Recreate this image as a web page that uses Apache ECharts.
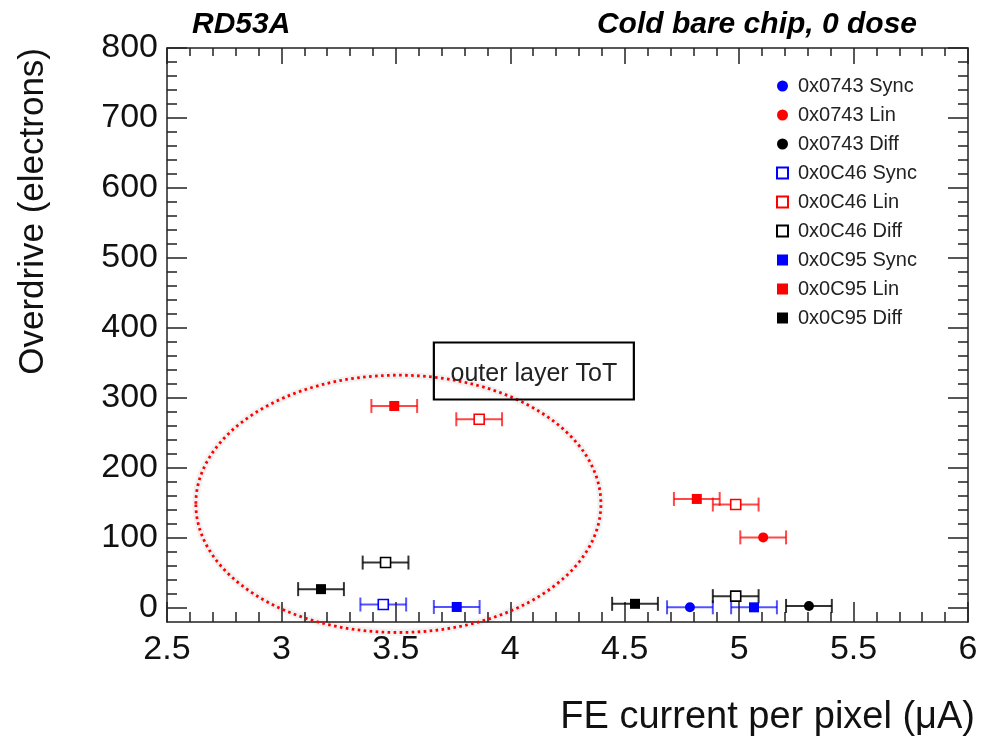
<!DOCTYPE html>
<html>
<head>
<meta charset="utf-8">
<script src="https://cdn.jsdelivr.net/npm/echarts@6/dist/echarts.min.js"></script>
<style>
  html, body { margin: 0; padding: 0; background: #fff; }
  #chart { width: 982px; height: 738px; }
</style>
</head>
<body>
<div id="chart"></div>
<script>
// ---------------- data ----------------
const seriesNames = [
  '0x0743 Sync', '0x0743 Lin', '0x0743 Diff',
  '0x0C46 Sync', '0x0C46 Lin', '0x0C46 Diff',
  '0x0C95 Sync', '0x0C95 Lin', '0x0C95 Diff'
];
// [FE current (uA), overdrive (e-)]
const sync0743 = [[4.785, 0]];
const lin0743  = [[5.105, 100]];
const diff0743 = [[5.305, 2]];
const sync0C46 = [[3.445, 4]];
const lin0C46  = [[3.864, 269], [4.985, 147]];
const diff0C46 = [[3.455, 64], [4.985, 16]];
const sync0C95 = [[3.766, 0.5], [5.065, 0]];
const lin0C95  = [[3.493, 288], [4.815, 155]];
const diff0C95 = [[3.173, 26], [4.545, 5]];
// horizontal error (uA), one per point
const xErr0743 = [0.1];
const xErrPair = [0.1, 0.1];

const xTicks = [2.5, 3, 3.5, 4, 4.5, 5, 5.5, 6];
const yTicks = [0, 100, 200, 300, 400, 500, 600, 700, 800];

const titleLeft = 'RD53A';
const titleRight = 'Cold bare chip, 0 dose';
const xName = 'FE current per pixel (\u03bcA)';
const yName = 'Overdrive (electrons)';
const boxText = 'outer layer ToT';

// annotation placement in data units
const ellipseData = { cx: 3.511, cy: 148, rx: 0.885, ry: 184 };
const boxCenter = [4.103, 338];

// ---------------- build ----------------
const FONT = "'Liberation Sans', Arial, Helvetica, sans-serif";
const RED = '#ff0000', BLUE = '#0000ff', BLACK = '#000000';

function minorTicks(major, step) {
  const out = [];
  for (let i = 0; i < major.length - 1; i++) {
    for (let k = 1; k < 5; k++) out.push(Math.round((major[i] + k * step) * 1000) / 1000);
  }
  return out;
}
const xMinor = minorTicks(xTicks, 0.1);
const yMinor = minorTicks(yTicks, 20);

const XMIN = 2.5, XMAX = 6, YMIN = -21, YMAX = 800;
const axisCol = '#222';

function xAxisDef(position, ticks, len, showLabel, showLine) {
  return {
    type: 'value', position: position, min: XMIN, max: XMAX,
    axisLine: { show: showLine, onZero: false, lineStyle: { color: axisCol, width: 1.5 } },
    axisTick: { show: true, inside: true, length: len, customValues: ticks, lineStyle: { color: axisCol, width: 1.5 } },
    axisLabel: showLabel ? { show: true, customValues: xTicks, margin: 11, color: '#111', fontSize: 34, fontFamily: FONT,
      formatter: v => String(v) } : { show: false },
    splitLine: { show: false }
  };
}
function yAxisDef(position, ticks, len, showLabel, showLine) {
  return {
    type: 'value', position: position, min: YMIN, max: YMAX,
    axisLine: { show: showLine, onZero: false, lineStyle: { color: axisCol, width: 1.5 } },
    axisTick: { show: true, inside: true, length: len, customValues: ticks, lineStyle: { color: axisCol, width: 1.5 } },
    axisLabel: showLabel ? { show: true, customValues: yTicks, margin: 9, color: '#111', fontSize: 34, fontFamily: FONT,
      formatter: v => String(v) } : { show: false },
    splitLine: { show: false }
  };
}

const groups = [
  { name: '0x0743 Sync', data: sync0743, err: xErr0743, color: BLUE,  symbol: 'circle', open: false },
  { name: '0x0743 Lin',  data: lin0743,  err: xErr0743, color: RED,   symbol: 'circle', open: false },
  { name: '0x0743 Diff', data: diff0743, err: xErr0743, color: BLACK, symbol: 'circle', open: false },
  { name: '0x0C46 Sync', data: sync0C46, err: xErr0743, color: BLUE,  symbol: 'rect',   open: true },
  { name: '0x0C46 Lin',  data: lin0C46,  err: xErrPair, color: RED,   symbol: 'rect',   open: true },
  { name: '0x0C46 Diff', data: diff0C46, err: xErrPair, color: BLACK, symbol: 'rect',   open: true },
  { name: '0x0C95 Sync', data: sync0C95, err: xErrPair, color: BLUE,  symbol: 'rect',   open: false },
  { name: '0x0C95 Lin',  data: lin0C95,  err: xErrPair, color: RED,   symbol: 'rect',   open: false },
  { name: '0x0C95 Diff', data: diff0C95, err: xErrPair, color: BLACK, symbol: 'rect',   open: false }
];

function errColor(c) {
  if (c === RED) return 'rgba(255,0,0,0.72)';
  if (c === BLUE) return 'rgba(0,0,255,0.68)';
  return 'rgba(0,0,0,0.8)';
}

const series = [];
groups.forEach(g => {
  series.push({
    type: 'custom', name: g.name + ' err', xAxisIndex: 0, yAxisIndex: 0, z: 2, silent: true,
    data: g.data.map((p, i) => [p[0], p[1], g.err[i]]),
    encode: { x: 0, y: 1 },
    renderItem: function (params, api) {
      const x = api.value(0), y = api.value(1), e = api.value(2);
      const a = api.coord([x - e, y]), b = api.coord([x + e, y]);
      const h = 7;
      const st = { stroke: errColor(g.color), lineWidth: 2, fill: null };
      return {
        type: 'group',
        children: [
          { type: 'line', shape: { x1: a[0], y1: a[1], x2: b[0], y2: b[1] }, style: st },
          { type: 'line', shape: { x1: a[0], y1: a[1] - h, x2: a[0], y2: a[1] + h }, style: st },
          { type: 'line', shape: { x1: b[0], y1: b[1] - h, x2: b[0], y2: b[1] + h }, style: st }
        ]
      };
    }
  });
});
groups.forEach(g => {
  series.push({
    type: 'scatter', name: g.name, xAxisIndex: 0, yAxisIndex: 0, z: 5,
    symbol: g.symbol, symbolSize: 10,
    data: g.data,
    itemStyle: g.open
      ? { color: '#ffffff', borderColor: g.color, borderWidth: 1.6, opacity: 1 }
      : { color: g.color, borderWidth: 0, opacity: 1 },
    emphasis: { disabled: true }
  });
});

const chart = echarts.init(document.getElementById('chart'), null, { renderer: 'canvas' });
const option = {
  backgroundColor: '#ffffff',
  animation: false,
  grid: { left: 167, right: 14, top: 48, bottom: 116, containLabel: false },
  xAxis: [
    xAxisDef('bottom', xTicks, 20, true, true),
    xAxisDef('bottom', xMinor, 10, false, false),
    xAxisDef('top', xTicks, 16, false, true),
    xAxisDef('top', xMinor, 8, false, false)
  ],
  yAxis: [
    yAxisDef('left', yTicks, 20, true, true),
    yAxisDef('left', yMinor, 10, false, false),
    yAxisDef('right', yTicks, 20, false, true),
    yAxisDef('right', yMinor, 10, false, false)
  ],
  legend: {
    orient: 'vertical', left: 771, top: 71,
    data: groups.map(g => ({ name: g.name, icon: g.symbol })),
    itemWidth: 11, itemHeight: 11, itemGap: 9,
    textStyle: { fontFamily: FONT, fontSize: 20, color: '#222', lineHeight: 20, padding: [0, 0, 0, 5] },
    selectedMode: false
  },
  series: series
};
chart.setOption(option);

// annotations placed from data coordinates
const c = chart.convertToPixel({ xAxisIndex: 0, yAxisIndex: 0 }, [ellipseData.cx, ellipseData.cy]);
const e1 = chart.convertToPixel({ xAxisIndex: 0, yAxisIndex: 0 }, [ellipseData.cx + ellipseData.rx, ellipseData.cy + ellipseData.ry]);
const rx = Math.abs(e1[0] - c[0]), ry = Math.abs(e1[1] - c[1]);
const bc = chart.convertToPixel({ xAxisIndex: 0, yAxisIndex: 0 }, boxCenter);
const BW = 200, BH = 57;

chart.setOption({
  graphic: [
    { type: 'text', left: 192, top: 10, z: 10,
      style: { text: titleLeft, fontFamily: FONT, fontSize: 30, fontWeight: 'bold', fontStyle: 'italic', fill: '#000' } },
    { type: 'text', right: 65, top: 10, z: 10,
      style: { text: titleRight, fontFamily: FONT, fontSize: 30, fontWeight: 'bold', fontStyle: 'italic', fill: '#000' } },
    { type: 'text', x: 33, y: 48, rotation: Math.PI / 2, z: 10,
      style: { text: yName, fontFamily: FONT, fontSize: 35, fill: '#111', align: 'right', verticalAlign: 'middle' } },
    { type: 'text', x: 975, y: 718, z: 10,
      style: { text: xName, fontFamily: FONT, fontSize: 38, fill: '#111', align: 'right', verticalAlign: 'middle' } },
    { type: 'ellipse', z: 1, silent: true,
      shape: { cx: c[0], cy: c[1], rx: rx, ry: ry },
      style: { fill: null, stroke: 'rgba(0,0,0,0.05)', lineWidth: 7, shadowBlur: 8, shadowColor: 'rgba(0,0,0,0.25)' } },
    { type: 'ellipse', z: 20, silent: true,
      shape: { cx: c[0], cy: c[1], rx: rx, ry: ry },
      style: { fill: null, stroke: '#ff0000', lineWidth: 2.8, lineDash: [2.6, 3.4] } },
    { type: 'rect', z: 21, silent: true,
      shape: { x: bc[0] - BW / 2, y: bc[1] - BH / 2, width: BW, height: BH },
      style: { fill: null, stroke: '#000', lineWidth: 2.2 } },
    { type: 'text', z: 22, silent: true, x: bc[0], y: bc[1] + 3,
      style: { text: boxText, fontFamily: FONT, fontSize: 25, fill: '#222', align: 'center', verticalAlign: 'middle' } }
  ]
});
</script>
</body>
</html>
